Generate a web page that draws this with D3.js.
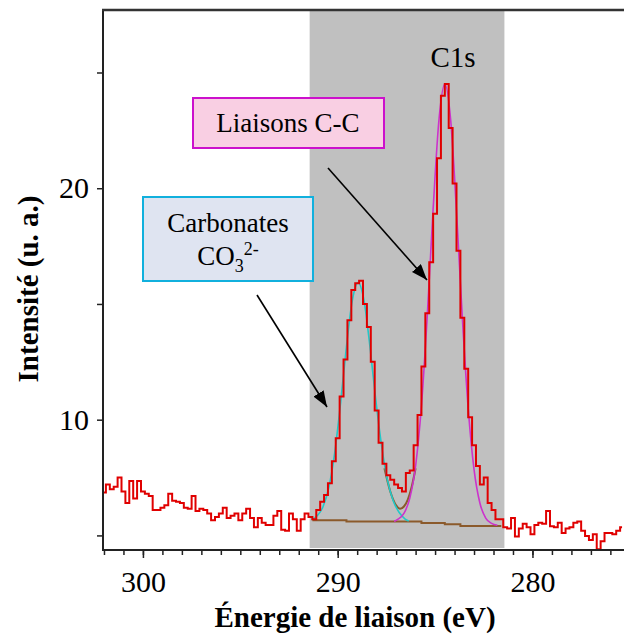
<!DOCTYPE html>
<html>
<head>
<meta charset="utf-8">
<script src="https://cdn.jsdelivr.net/npm/d3@7"></script>
<style>
  body { margin: 0; background: #fff; }
  svg { display: block; font-family: "Liberation Serif", serif; }
</style>
</head>
<body>
<div id="chart"></div>
<script>
// Chart size
const width = 624;
const height = 642;

// Spectrum: first energy, step (eV) and intensities
const energyStart = 302.0;
const energyStep = -0.2;
const counts = [
  6.85, 7.2, 7.0, 7.1, 7.5, 6.9, 6.4, 7.35, 6.6, 7.35,
  6.9, 6.8, 6.7, 6.1, 6.1, 6.2, 6.3, 6.8, 6.5, 6.45,
  6.4, 6.2, 6.15, 6.7, 6.05, 6.15, 6.1, 5.95, 5.65, 5.8,
  5.95, 6.2, 5.75, 5.85, 5.95, 5.65, 5.95, 6.15, 5.75, 5.35,
  5.75, 5.55, 5.45, 5.45, 5.85, 6.05, 5.25, 5.2, 5.95, 5.7,
  5.2, 5.7, 5.95, 5.8, 5.7, 6.1, 6.45, 6.75, 7.25, 8.2,
  9.2, 11.0, 12.6, 14.3, 15.6, 15.9, 16.0, 15.0, 14.0, 12.5,
  10.4, 9.0, 8.1, 7.6, 7.4, 7.2, 7.05, 6.9, 7.7, 7.8,
  8.9, 10.2, 12.3, 14.6, 16.8, 18.9, 21.3, 24.0, 24.5, 22.6,
  20.2, 17.3, 14.4, 12.2, 10.1, 8.9, 8.0, 7.2, 7.5, 6.4,
  6.1, 5.7, 5.7, 5.35, 5.3, 5.75, 4.95, 5.3, 5.5, 5.35,
  5.05, 5.45, 5.55, 5.5, 6.05, 5.4, 5.35, 5.55, 5.1, 5.3,
  5.35, 5.55, 5.6, 5.2, 4.98, 4.8, 5.05, 4.4, 4.75, 5.1,
  5.1, 5.05, 5.2, 5.35
];

// Fitted components
const carbEnergy = [291.35, 291.05, 290.75, 290.45, 290.15, 289.85, 289.55, 289.25, 288.95, 288.65, 288.35, 288.05, 287.75, 287.45, 287.15, 286.85, 286.55, 286.35];
const carbValue  = [5.69, 5.85, 6.25, 7.09, 8.59, 10.73, 13.16, 15.15, 15.92, 15.15, 13.2, 10.9, 8.9, 7.4, 6.5, 6.0, 5.72, 5.62];

const ccEnergy = [287.1, 286.9, 286.6, 286.3, 286.0, 285.7, 285.4, 285.1, 284.8, 284.5, 284.2, 283.9, 283.6, 283.3, 283.0, 282.7, 282.4, 282.1, 281.8];
const ccValue  = [5.6, 5.7, 5.95, 6.6, 8.0, 10.6, 14.5, 19.1, 22.96, 24.5, 22.95, 19.0, 14.4, 10.5, 7.85, 6.4, 5.75, 5.52, 5.44];

const envEnergy = [287.6, 287.3, 287.0, 286.8, 286.6, 286.4, 286.2, 286.0];
const envValue  = [7.9, 6.9, 6.3, 6.15, 6.25, 6.55, 7.1, 7.9];

// Background (stepped)
const bgEnergy = [291.3, 289.55, 285.7, 284.5, 283.7, 281.6];
const bgValue  = [5.65, 5.6, 5.54, 5.48, 5.41, 5.41];

// Analysed window (grey band)
const bandRange = [291.44, 281.44];

// Axis ticks
const xMajorTicks = [300, 290, 280];
const yTicks = [5, 10, 15, 20, 25];
const yLabelTicks = [10, 20];

const svg = d3.select("#chart").append("svg")
  .attr("width", width)
  .attr("height", height);

const x = d3.scaleLinear().domain([302.05, 275.3]).range([103, 624]);
const y = d3.scaleLinear().domain([4.37, 27.7]).range([550, 10]);

svg.append("defs").append("clipPath").attr("id", "plot")
  .append("rect").attr("x", 103).attr("y", 10).attr("width", 521).attr("height", 540);

// Grey band
svg.append("rect")
  .attr("x", x(bandRange[0]))
  .attr("y", 11)
  .attr("width", x(bandRange[1]) - x(bandRange[0]))
  .attr("height", 537)
  .attr("fill", "#c0c0c0");

const plot = svg.append("g").attr("clip-path", "url(#plot)");

function pts(es, vs) { return es.map((e, i) => [e, vs[i]]); }

const smooth = d3.line().x(d => x(d[0])).y(d => y(d[1])).curve(d3.curveMonotoneX);

plot.append("path")
  .attr("d", d3.line().x(d => x(d[0])).y(d => y(d[1])).curve(d3.curveStepAfter)(pts(bgEnergy, bgValue)))
  .attr("fill", "none").attr("stroke", "#8b5a2b").attr("stroke-width", 2);

plot.append("path")
  .attr("d", smooth(pts(envEnergy, envValue)))
  .attr("fill", "none").attr("stroke", "#8b5a2b").attr("stroke-width", 2);

plot.append("path")
  .attr("d", smooth(pts(carbEnergy, carbValue)))
  .attr("fill", "none").attr("stroke", "#22c8c8").attr("stroke-width", 1.6);

plot.append("path")
  .attr("d", smooth(pts(ccEnergy, ccValue)))
  .attr("fill", "none").attr("stroke", "#cc33cc").attr("stroke-width", 1.6);

// Measured spectrum
const spectrum = counts.map((c, i) => [energyStart + i * energyStep, c]);
plot.append("path")
  .attr("d", d3.line().x(d => x(d[0])).y(d => y(d[1])).curve(d3.curveStep)(spectrum))
  .attr("fill", "none").attr("stroke", "#e00000").attr("stroke-width", 2);

// Axes
const xMinor = svg.append("g").attr("transform", "translate(0,550)")
  .call(d3.axisBottom(x).tickValues(d3.range(302, 275, -1)).tickSize(5).tickFormat(""));
const xMajor = svg.append("g").attr("transform", "translate(0,550)")
  .call(d3.axisBottom(x).tickValues(xMajorTicks).tickSize(8).tickPadding(13).tickFormat(d3.format("d")));
const yAxis = svg.append("g").attr("transform", "translate(103,0)")
  .call(d3.axisLeft(y).tickValues(yTicks).tickSize(6).tickPadding(8)
    .tickFormat(d => yLabelTicks.includes(d) ? d : ""));

[xMinor, xMajor, yAxis].forEach(g => {
  g.select(".domain").remove();
  g.selectAll("line").attr("stroke", "#222").attr("stroke-width", 1.5);
  g.selectAll("text").attr("font-family", "Liberation Serif").attr("font-size", 30).attr("fill", "#000");
});

// Frame lines
svg.append("line").attr("x1", 103).attr("x2", 103).attr("y1", 10).attr("y2", 551)
  .attr("stroke", "#222").attr("stroke-width", 2);
svg.append("line").attr("x1", 102).attr("x2", 624).attr("y1", 550).attr("y2", 550)
  .attr("stroke", "#222").attr("stroke-width", 2);
svg.append("line").attr("x1", 102).attr("x2", 624).attr("y1", 10).attr("y2", 10)
  .attr("stroke", "#333").attr("stroke-width", 2.5);

// Axis titles
svg.append("text")
  .attr("x", 355).attr("y", 627)
  .attr("text-anchor", "middle")
  .attr("font-weight", "bold").attr("font-size", 29)
  .text("Énergie de liaison (eV)");

svg.append("text")
  .attr("transform", "translate(38,289) rotate(-90)")
  .attr("text-anchor", "middle")
  .attr("font-weight", "bold").attr("font-size", 29)
  .text("Intensité (u. a.)");

// Peak label
svg.append("text")
  .attr("x", 453).attr("y", 67)
  .attr("text-anchor", "middle")
  .attr("font-size", 29)
  .text("C1s");

// Arrow marker
svg.select("defs").append("marker")
  .attr("id", "head")
  .attr("markerUnits", "userSpaceOnUse")
  .attr("viewBox", "0 0 16 12")
  .attr("refX", 16).attr("refY", 6)
  .attr("markerWidth", 16).attr("markerHeight", 12)
  .attr("orient", "auto")
  .append("path").attr("d", "M0,0L16,6L0,12Z").attr("fill", "#000");

svg.append("line").attr("x1", 328).attr("y1", 168).attr("x2", 427).attr("y2", 280)
  .attr("stroke", "#000").attr("stroke-width", 1.6).attr("marker-end", "url(#head)");
svg.append("line").attr("x1", 257).attr("y1", 295).attr("x2", 327).attr("y2", 407)
  .attr("stroke", "#000").attr("stroke-width", 1.6).attr("marker-end", "url(#head)");

// Annotation boxes
svg.append("rect").attr("x", 193).attr("y", 98).attr("width", 191).attr("height", 50)
  .attr("fill", "#f9cfe3").attr("stroke", "#cc11cc").attr("stroke-width", 2);
svg.append("text").attr("x", 288).attr("y", 132)
  .attr("text-anchor", "middle").attr("font-size", 27)
  .text("Liaisons C-C");

svg.append("rect").attr("x", 143).attr("y", 197).attr("width", 170).attr("height", 84)
  .attr("fill", "#dfe4f1").attr("stroke", "#11b0dd").attr("stroke-width", 2);
svg.append("text").attr("x", 228).attr("y", 232)
  .attr("text-anchor", "middle").attr("font-size", 27)
  .text("Carbonates");
const co3 = svg.append("text").attr("x", 228).attr("y", 265)
  .attr("text-anchor", "middle").attr("font-size", 27);
co3.append("tspan").text("CO");
co3.append("tspan").attr("font-size", 18).attr("dy", 7).text("3");
co3.append("tspan").attr("font-size", 18).attr("dy", -17).text("2-");
</script>
</body>
</html>
